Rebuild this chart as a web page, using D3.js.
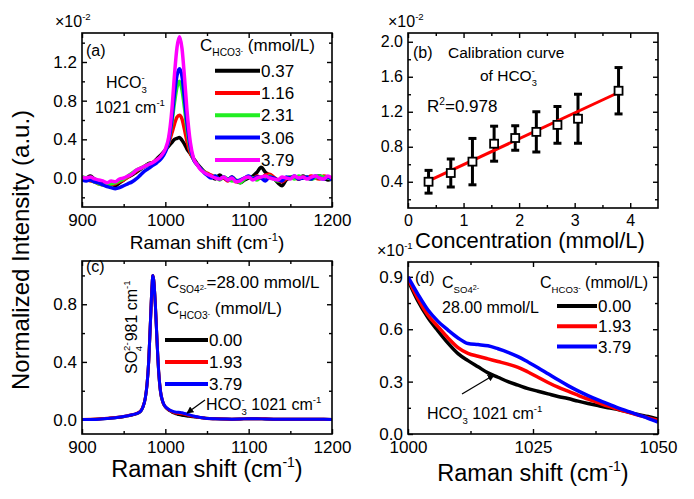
<!DOCTYPE html>
<html><head><meta charset="utf-8">
<script src="https://cdn.jsdelivr.net/npm/d3@7/dist/d3.min.js"></script>
<style>html,body{margin:0;padding:0;background:#fff}</style>
</head><body>
<script>
// ---------- DATA ----------
// Panel (a): HCO3- spectra (values in units of 1e-2)
const shiftA = [900,905,910,915,920,925,930,935,940,945,950,955,960,965,970,975,980,985,990,995,1000,1004,1008,1011,1014,1017,1020,1023,1026,1030,1034,1038,1042,1046,1050,1055,1060,1065,1070,1075,1080,1085,1090,1095,1100,1105,1110,1115,1120,1125,1130,1135,1140,1145,1150,1155,1160,1165,1170,1175,1180,1185,1190,1195,1200];
const concLabelsA = ["0.37","1.16","2.31","3.06","3.79"];
const colorsA = ["#000000","#ff0000","#22ee22","#0000ff","#ff00ff"];
const specA037 = [0.01,0.00,0.02,-0.01,-0.03,-0.05,-0.07,-0.06,-0.08,-0.05,-0.02,0.01,0.03,0.06,0.09,0.12,0.15,0.16,
  0.20,0.24,0.29,0.33,0.37,0.40,0.41,0.42,0.39,0.35,0.30,0.25,0.20,0.15,0.11,0.07,0.04,
  0.02,-0.01,0.03,0.00,-0.02,0.01,-0.03,-0.05,-0.02,0.00,0.02,0.06,0.11,0.06,0.03,0.00,-0.05,-0.08,-0.02,0.00,0.01,-0.01,0.02,0.00,-0.01,0.01,0.02,0.00,-0.02,-0.01];
const specA116 = [0.00,-0.01,-0.03,-0.04,-0.06,-0.07,-0.08,-0.07,-0.06,-0.04,-0.02,0.01,0.04,0.07,0.10,0.12,0.14,0.16,
  0.19,0.22,0.28,0.36,0.47,0.56,0.63,0.65,0.61,0.50,0.38,0.26,0.19,0.14,0.10,0.07,0.05,
  0.03,0.01,-0.01,0.00,-0.03,-0.01,-0.04,-0.03,0.00,0.01,-0.01,0.02,0.00,0.03,0.04,0.01,-0.02,-0.04,-0.01,0.01,0.00,-0.01,0.01,0.00,0.02,0.00,-0.01,0.02,0.01,-0.01];
const specA231 = [0.01,0.00,-0.02,-0.04,-0.06,-0.07,-0.07,-0.06,-0.05,-0.03,-0.01,0.02,0.05,0.08,0.10,0.12,0.14,0.15,
  0.18,0.21,0.28,0.38,0.58,0.78,0.94,1.00,0.91,0.72,0.50,0.30,0.19,0.14,0.10,0.07,0.04,
  0.01,0.02,-0.02,0.01,-0.01,-0.03,-0.02,-0.05,-0.01,0.01,0.00,-0.02,0.01,0.00,0.02,-0.01,-0.03,-0.02,0.00,0.01,-0.01,0.02,0.00,0.01,-0.01,0.00,0.02,0.01,0.00,-0.01];
const specA306 = [-0.02,-0.03,-0.02,-0.04,-0.05,-0.07,-0.09,-0.10,-0.11,-0.10,-0.08,-0.06,-0.04,-0.01,0.03,0.07,0.10,0.13,
  0.16,0.20,0.27,0.38,0.62,0.87,1.06,1.13,1.05,0.82,0.57,0.32,0.19,0.14,0.10,0.06,0.03,
  0.00,0.02,-0.01,0.01,-0.02,0.01,-0.03,-0.02,0.00,0.02,-0.01,0.01,0.00,-0.03,0.01,0.00,-0.02,-0.03,0.01,0.00,0.02,-0.01,0.00,0.01,-0.01,0.02,0.00,-0.01,0.01,-0.02];
const specA379 = [0.01,0.00,0.01,-0.01,-0.02,-0.03,-0.05,-0.03,-0.04,-0.01,0.00,0.02,0.04,0.08,0.10,0.12,0.14,0.16,
  0.19,0.23,0.30,0.42,0.72,1.07,1.35,1.46,1.34,1.04,0.70,0.37,0.20,0.14,0.09,0.06,0.04,
  0.02,0.00,-0.01,0.01,-0.02,0.00,-0.04,-0.03,0.00,0.01,-0.02,0.00,0.01,0.02,0.00,-0.01,-0.02,0.01,0.00,-0.01,0.02,0.00,0.01,-0.01,0.01,0.02,0.00,-0.01,0.02,0.00];

// Panel (b): calibration (intensity in units of 1e-2)
const concB = [0.37,0.77,1.16,1.55,1.93,2.31,2.69,3.06,3.79];
const intensityB = [0.40,0.50,0.63,0.835,0.90,0.97,1.05,1.12,1.44];
const errorB = [0.13,0.16,0.265,0.20,0.14,0.23,0.21,0.28,0.265];
const fitConcB = [0.37,3.79];
const fitIntensityB = [0.41,1.42];

// Panel (c)/(d): SO4 + HCO3 spectra (normalized intensity)
const shiftC = [900,910,920,930,940,950,955,960,965,970,973,976,978,980,982,984,985,986,988,990,992,994,997,
  1000,1002,1004,1006,1008,1010,1012,1014,1016,1018,1020,1022,1024,1026,1028,1030,1032,1034,1036,1038,1040,1042,1044,1046,1048,1050,
  1060,1070,1080,1090,1100,1110,1120,1130,1140,1150,1160,1170,1180,1190,1200];
const concLabelsC = ["0.00","1.93","3.79"];
const colorsC = ["#000000","#ff0000","#0000ff"];
const specC000 = [0.000,0.001,0.004,0.008,0.013,0.020,0.026,0.032,0.040,0.055,0.085,0.150,0.240,0.400,0.660,0.920,1.000,0.970,0.800,0.550,0.330,0.200,0.120,
  0.088,0.076,0.0665,0.059,0.052,0.046,0.042,0.0385,0.035,0.0325,0.030,0.028,0.026,0.0245,0.023,0.0215,0.0203,0.0188,0.0175,0.0163,0.015,0.014,0.0126,0.0112,0.010,0.0085,
  0.006,0.004,0.003,0.004,0.006,0.006,0.004,0.003,0.003,0.002,0.002,0.003,0.003,0.002,0.001];
const specC193 = [0.000,0.002,0.004,0.009,0.014,0.022,0.028,0.034,0.042,0.058,0.088,0.152,0.242,0.400,0.660,0.920,1.000,0.970,0.800,0.550,0.335,0.205,0.122,
  0.089,0.0775,0.068,0.0615,0.055,0.0495,0.0462,0.0445,0.043,0.0415,0.040,0.0382,0.0355,0.0325,0.0295,0.0268,0.0245,0.0222,0.020,0.018,0.016,0.0142,0.0125,0.0108,0.0093,0.0078,
  0.006,0.004,0.003,0.004,0.006,0.006,0.005,0.003,0.003,0.002,0.002,0.003,0.003,0.002,0.001];
const specC379 = [0.000,0.001,0.003,0.008,0.013,0.021,0.027,0.033,0.041,0.056,0.086,0.150,0.240,0.400,0.660,0.920,1.000,0.970,0.800,0.550,0.335,0.205,0.124,
  0.090,0.080,0.071,0.0645,0.0595,0.055,0.0518,0.0512,0.0505,0.0488,0.0468,0.0443,0.0412,0.038,0.0345,0.031,0.0277,0.0247,0.022,0.0195,0.0172,0.015,0.013,0.011,0.009,0.0068,
  0.005,0.004,0.003,0.004,0.006,0.006,0.004,0.003,0.003,0.002,0.002,0.003,0.003,0.002,0.001];

// Tick values
const ticksA_x = [900,1000,1100,1200], minorA_x = [950,1050,1150];
const ticksA_y = [0.0,0.4,0.8,1.2], minorA_y = [-0.2,0.2,0.6,1.0,1.4];
const ticksB_x = [0,1,2,3,4], minorB_x = [0.5,1.5,2.5,3.5];
const ticksB_y = [0.4,0.8,1.2,1.6,2.0], minorB_y = [0.2,0.6,1.0,1.4,1.8];
const ticksC_x = [900,1000,1100,1200], minorC_x = [950,1050,1150];
const ticksC_y = [0.0,0.4,0.8], minorC_y = [0.2,0.6,1.0];
const ticksD_x = [1000,1025,1050], minorD_x = [1012.5,1037.5];
const ticksD_y = [0,0.03,0.06,0.09], minorD_y = [0.015,0.045,0.075];

// ---------- DRAW ----------
const W = 694, H = 499;
const svg = d3.select("body").append("svg").attr("width", W).attr("height", H)
  .style("font-family", "'Liberation Sans', Arial, sans-serif");
svg.append("rect").attr("width", W).attr("height", H).attr("fill", "#fff");
const defs = svg.append("defs");
defs.append("marker").attr("id","arr").attr("viewBox","0 0 10 10").attr("refX",9).attr("refY",5)
  .attr("markerWidth",7).attr("markerHeight",7).attr("markerUnits","userSpaceOnUse").attr("orient","auto")
  .append("path").attr("d","M0,0 L10,5 L0,10 Z").attr("fill","#000");

function rich(sel, x, y, size, parts) {
  const t = sel.append("text").attr("x", x).attr("y", y).attr("font-size", size).attr("fill", "#000");
  let cur = 0;
  parts.forEach(p => {
    let off = 0, fs = size;
    if (p.s === "sub") { off = 0.32 * size; fs = 0.6 * size; }
    if (p.s === "sup") { off = -0.42 * size; fs = 0.6 * size; }
    if (p.s === "ss") { off = 0.1 * size; fs = 0.45 * size; }
    const ts = t.append("tspan").attr("dy", off - cur).attr("font-size", fs).text(p.t);
    if (p.dx) ts.attr("dx", p.dx * size);
    cur = off;
  });
  return t;
}

function panel(id, box, xDom, yDom, tk, fs, fmtX, fmtY, padX, padY) {
  const g = svg.append("g");
  const x = d3.scaleLinear().domain(xDom).range([box.x0, box.x1]);
  const y = d3.scaleLinear().domain(yDom).range([box.y1, box.y0]);
  defs.append("clipPath").attr("id", "clip" + id).append("rect")
    .attr("x", box.x0).attr("y", box.y0).attr("width", box.x1 - box.x0).attr("height", box.y1 - box.y0);
  const mk = (axis, tr, vals, size, fmt, pad) => {
    const a = g.append("g").attr("transform", tr).call(axis.tickValues(vals).tickSize(size).tickPadding(pad).tickFormat(fmt));
    a.select(".domain").remove();
    a.selectAll("line").attr("stroke", "#000").attr("stroke-width", 1.4);
    a.selectAll("text").attr("font-size", fs).attr("fill", "#000").attr("font-family", "'Liberation Sans', Arial, sans-serif");
    return a;
  };
  mk(d3.axisBottom(x), `translate(0,${box.y1})`, tk.xM, -5, fmtX, padX);
  mk(d3.axisBottom(x), `translate(0,${box.y1})`, tk.xm, -3, () => "", 0);
  mk(d3.axisTop(x), `translate(0,${box.y0})`, tk.xM, -5, () => "", 0);
  mk(d3.axisTop(x), `translate(0,${box.y0})`, tk.xm, -3, () => "", 0);
  mk(d3.axisLeft(y), `translate(${box.x0},0)`, tk.yM, -5, fmtY, padY);
  mk(d3.axisLeft(y), `translate(${box.x0},0)`, tk.ym, -3, () => "", 0);
  mk(d3.axisRight(y), `translate(${box.x1},0)`, tk.yM, -5, () => "", 0);
  mk(d3.axisRight(y), `translate(${box.x1},0)`, tk.ym, -3, () => "", 0);
  const plot = g.append("g").attr("clip-path", `url(#clip${id})`);
  g.append("rect").attr("x", box.x0).attr("y", box.y0).attr("width", box.x1 - box.x0)
    .attr("height", box.y1 - box.y0).attr("fill", "none").attr("stroke", "#000").attr("stroke-width", 1.6);
  return { g, x, y, plot };
}

const f1 = d3.format(".1f");

// ---- Panel (a)
const pa = panel("a", { x0: 82, x1: 332, y0: 33, y1: 207 }, [900, 1200], [-0.3, 1.5],
  { xM: ticksA_x, xm: minorA_x, yM: ticksA_y, ym: minorA_y }, 17, d3.format("d"), f1, 7, 5);
const seriesA = [specA037, specA116, specA231, specA306, specA379];
const lineA = d3.line().x((d, i) => pa.x(shiftA[i])).y(d => pa.y(d)).curve(d3.curveMonotoneX);
seriesA.forEach((s, k) => {
  pa.plot.append("path").attr("d", lineA(s)).attr("fill", "none").attr("stroke", colorsA[k])
    .attr("stroke-width", 3.5).attr("stroke-linejoin", "round");
});
rich(svg, 86, 56, 16, [{ t: "(a)" }]);
rich(svg, 106, 88, 16, [{ t: "HCO" }, { t: "-", s: "sup" }, { t: "3", s: "sub", dx: -0.2 }]);
rich(svg, 95, 113, 16, [{ t: "1021 cm" }, { t: "-1", s: "sup" }]);
rich(svg, 200, 51, 17, [{ t: "C" }, { t: "HCO3", s: "sub" }, { t: "-", s: "ss" }, { t: " (mmol/L)" }]);
concLabelsA.forEach((lab, k) => {
  const yy = 70.7 + k * 22.3;
  svg.append("line").attr("x1", 215).attr("x2", 260).attr("y1", yy).attr("y2", yy)
    .attr("stroke", colorsA[k]).attr("stroke-width", 4);
  svg.append("text").attr("x", 261).attr("y", yy + 6).attr("font-size", 17).text(lab);
});
rich(svg, 55, 27, 16, [{ t: "×10" }, { t: "-2", s: "sup" }]);
svg.append("text").attr("x", 207).attr("y", 249).attr("text-anchor", "middle").attr("font-size", 19)
  .call(t => { t.append("tspan").text("Raman shift (cm"); t.append("tspan").attr("dy", -8).attr("font-size", 11).text("-1"); t.append("tspan").attr("dy", 8).text(")"); });

// ---- Panel (b)
const pb = panel("b", { x0: 408, x1: 658, y0: 33, y1: 208 }, [0, 4.5], [0.1, 2.1],
  { xM: ticksB_x, xm: minorB_x, yM: ticksB_y, ym: minorB_y }, 16, d3.format("d"), f1, 7, 5);
concB.forEach((c, i) => {
  const cx = pb.x(c), yt = pb.y(intensityB[i] + errorB[i]), yb = pb.y(intensityB[i] - errorB[i]);
  pb.plot.append("line").attr("x1", cx).attr("x2", cx).attr("y1", yt).attr("y2", yb).attr("stroke", "#000").attr("stroke-width", 3);
  [yt, yb].forEach(yy => pb.plot.append("line").attr("x1", cx - 4).attr("x2", cx + 4).attr("y1", yy).attr("y2", yy).attr("stroke", "#000").attr("stroke-width", 3));
});
pb.plot.append("line").attr("x1", pb.x(fitConcB[0])).attr("x2", pb.x(fitConcB[1]))
  .attr("y1", pb.y(fitIntensityB[0])).attr("y2", pb.y(fitIntensityB[1])).attr("stroke", "#ff0000").attr("stroke-width", 3);
concB.forEach((c, i) => {
  pb.plot.append("rect").attr("x", pb.x(c) - 4).attr("y", pb.y(intensityB[i]) - 4).attr("width", 8).attr("height", 8)
    .attr("fill", "#fff").attr("stroke", "#000").attr("stroke-width", 1.8);
});
rich(svg, 413, 58, 16, [{ t: "(b)" }]);
rich(svg, 448, 58, 15.5, [{ t: "Calibration curve" }]);
rich(svg, 480, 81, 15.5, [{ t: "of HCO" }, { t: "-", s: "sup" }, { t: "3", s: "sub", dx: -0.2 }]);
rich(svg, 427, 112, 17, [{ t: "R" }, { t: "2", s: "sup" }, { t: "=0.978" }]);
rich(svg, 388, 27, 16, [{ t: "×10" }, { t: "-2", s: "sup" }]);
svg.append("text").attr("x", 530).attr("y", 248).attr("text-anchor", "middle").attr("font-size", 22).text("Concentration (mmol/L)");

// ---- Panel (c)
const pc = panel("c", { x0: 82, x1: 332, y0: 261, y1: 434 }, [900, 1200], [-0.1, 1.1],
  { xM: ticksC_x, xm: minorC_x, yM: ticksC_y, ym: minorC_y }, 17, d3.format("d"), f1, 7, 5);
const seriesC = [specC000, specC193, specC379];
const lineC = d3.line().x((d, i) => pc.x(shiftC[i])).y(d => pc.y(d)).curve(d3.curveMonotoneX);
seriesC.forEach((s, k) => {
  pc.plot.append("path").attr("d", lineC(s)).attr("fill", "none").attr("stroke", colorsC[k]).attr("stroke-width", 3);
});
rich(svg, 86, 272, 16, [{ t: "(c)" }]);
svg.append("g").attr("transform", "translate(137,374) rotate(-90)")
  .call(g => rich(g, 0, 0, 16, [{ t: "SO" }, { t: "2-", s: "sup" }, { t: "4", s: "sub", dx: -0.55 }, { t: " 981 cm" }, { t: "-1", s: "sup" }]));
rich(svg, 167, 288, 17, [{ t: "C" }, { t: "SO4", s: "sub" }, { t: "2-", s: "ss" }, { t: "=28.00 mmol/L" }]);
rich(svg, 167, 314, 17, [{ t: "C" }, { t: "HCO3", s: "sub" }, { t: "-", s: "ss" }, { t: " (mmol/L)" }]);
concLabelsC.forEach((lab, k) => {
  const yy = 340 + k * 22;
  svg.append("line").attr("x1", 165).attr("x2", 208).attr("y1", yy).attr("y2", yy).attr("stroke", colorsC[k]).attr("stroke-width", 4);
  svg.append("text").attr("x", 209).attr("y", yy + 6).attr("font-size", 17).text(lab);
});
svg.append("line").attr("x1", 205).attr("y1", 400).attr("x2", 187).attr("y2", 413).attr("stroke", "#000").attr("stroke-width", 1.3).attr("marker-end", "url(#arr)");
rich(svg, 206, 410, 16, [{ t: "HCO" }, { t: "-", s: "sup" }, { t: "3", s: "sub", dx: -0.2 }, { t: " 1021 cm" }, { t: "-1", s: "sup" }]);
svg.append("text").attr("x", 207).attr("y", 477).attr("text-anchor", "middle").attr("font-size", 23.5)
  .call(t => { t.append("tspan").text("Raman shift (cm"); t.append("tspan").attr("dy", -10).attr("font-size", 14).text("-1"); t.append("tspan").attr("dy", 10).text(")"); });

// ---- Panel (d)
const pd = panel("d", { x0: 408, x1: 658, y0: 262, y1: 434 }, [1000, 1050], [0, 0.0985],
  { xM: ticksD_x, xm: minorD_x, yM: ticksD_y, ym: minorD_y }, 17, d3.format("d"), v => f1(v * 10), 7, 5);
const idxD = shiftC.map((v, i) => i).filter(i => shiftC[i] >= 1000 && shiftC[i] <= 1050);
const lineD = d3.line().x(i => pd.x(shiftC[i])).curve(d3.curveMonotoneX);
seriesC.forEach((s, k) => {
  pd.plot.append("path").attr("d", lineD.y(i => pd.y(s[i]))(idxD)).attr("fill", "none").attr("stroke", colorsC[k]).attr("stroke-width", 3.5);
});
rich(svg, 415, 283, 16, [{ t: "(d)" }]);
rich(svg, 442, 288, 16, [{ t: "C" }, { t: "SO4", s: "sub" }, { t: "2-", s: "ss" }]);
rich(svg, 442, 313, 16, [{ t: "28.00 mmol/L" }]);
rich(svg, 540, 288, 16, [{ t: "C" }, { t: "HCO3", s: "sub" }, { t: "-", s: "ss" }, { t: " (mmol/L)" }]);
concLabelsC.forEach((lab, k) => {
  const yy = 306 + k * 20.3;
  svg.append("line").attr("x1", 557).attr("x2", 597).attr("y1", yy).attr("y2", yy).attr("stroke", colorsC[k]).attr("stroke-width", 4);
  svg.append("text").attr("x", 598).attr("y", yy + 6).attr("font-size", 17).text(lab);
});
svg.append("line").attr("x1", 462).attr("y1", 394).attr("x2", 494).attr("y2", 375).attr("stroke", "#000").attr("stroke-width", 1.3).attr("marker-end", "url(#arr)");
rich(svg, 427, 419, 16, [{ t: "HCO" }, { t: "-", s: "sup" }, { t: "3", s: "sub", dx: -0.2 }, { t: " 1021 cm" }, { t: "-1", s: "sup" }]);
rich(svg, 377, 256, 16, [{ t: "×10" }, { t: "-1", s: "sup" }]);
svg.append("text").attr("x", 533).attr("y", 481).attr("text-anchor", "middle").attr("font-size", 23.5)
  .call(t => { t.append("tspan").text("Raman shift (cm"); t.append("tspan").attr("dy", -10).attr("font-size", 14).text("-1"); t.append("tspan").attr("dy", 10).text(")"); });

// ---- Shared y title
svg.append("text").attr("transform", "translate(29,250) rotate(-90)").attr("text-anchor", "middle")
  .attr("font-size", 24).text("Normalized Intensity (a.u.)");
</script>
</body></html>
